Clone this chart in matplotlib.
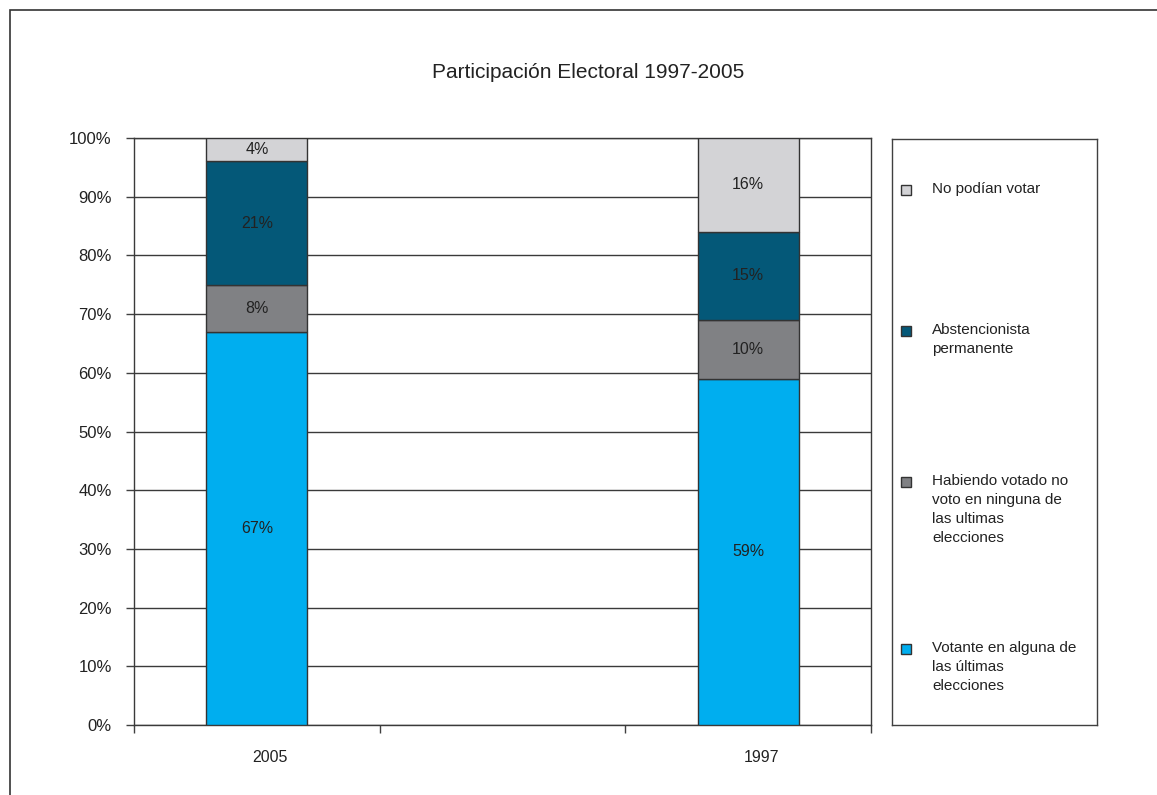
import numpy as np
import matplotlib
matplotlib.use('Agg')
import matplotlib.pyplot as plt
from matplotlib.patches import Rectangle
from matplotlib.transforms import ScaledTranslation

plt.rcParams['font.family'] = ['Liberation Sans', 'DejaVu Sans']

# Datos
years = ['2005', '', '1997']
series = ['Votante en alguna de\nlas últimas\nelecciones',
          'Habiendo votado no\nvoto en ninguna de\nlas ultimas\nelecciones',
          'Abstencionista\npermanente',
          'No podían votar']
votante = [67, 0, 59]
habiendo = [8, 0, 10]
abstencion = [21, 0, 15]
no_podian = [4, 0, 16]
colors = ['#00AEEF', '#808184', '#045878', '#D3D3D6']

W, H = 1157, 795
fig = plt.figure(figsize=(W / 100, H / 100), dpi=100)

# marco exterior
fig.patches.append(Rectangle((10 / W, -0.1), 1.2, 1 - 10 / H + 0.1,
                             transform=fig.transFigure, fill=False,
                             edgecolor='#333333', linewidth=1.2))

ax = fig.add_axes([134 / W, (H - 725) / H, (871 - 134) / W, (725 - 138) / H])
x = np.arange(len(years))
values = [votante, habiendo, abstencion, no_podian]
bottom = np.zeros(len(years))
for vals, col, lab in zip(values, colors, series):
    vals = np.array(vals, dtype=float)
    mask = vals > 0
    ax.bar(x[mask], vals[mask], bottom=bottom[mask], width=0.41,
           color=col, edgecolor='#333333', linewidth=1, zorder=3, label=lab)
    for xi, v, b in zip(x[mask], vals[mask], bottom[mask]):
        ax.text(xi, b + v / 2, f'{int(v)}%', ha='center', va='center',
                fontsize=11.5, color='#222222', zorder=4)
    bottom = bottom + vals

ax.set_xlim(-0.5, 2.5)
ax.set_ylim(0, 100)
ax.set_yticks(np.arange(0, 101, 10))
ax.set_yticklabels([f'{v}%' for v in range(0, 101, 10)], fontsize=12, color='#222222')
ax.yaxis.grid(True, color='#3a3a3a', linewidth=1, zorder=0)
ax.set_axisbelow(True)

ax.set_xticks([-0.5, 0.5, 1.5, 2.5])
ax.set_xticklabels([])
ax.set_xticks([0, 2], minor=True)
ax.set_xticklabels([years[0], years[2]], minor=True, fontsize=11.5, color='#222222')
ax.tick_params(axis='x', which='minor', length=0, pad=18)
ax.tick_params(axis='both', which='major', length=6, width=1, color='#404040')
ax.tick_params(axis='y', pad=10)
for lbl in ax.get_xticklabels(minor=True):
    lbl.set_transform(lbl.get_transform() + ScaledTranslation(13 / 100, 0, fig.dpi_scale_trans))
for s in ax.spines.values():
    s.set_color('#3a3a3a')
    s.set_linewidth(1)

fig.text(588 / W, 1 - 73 / H, 'Participación Electoral 1997-2005',
         ha='center', va='center', fontsize=15, color='#222222')

# leyenda
lax = fig.add_axes([892 / W, (H - 725) / H, (1097 - 892) / W, (725 - 139) / H])
lax.set_xlim(892, 1097)
lax.set_ylim(725, 139)
lax.set_xticks([])
lax.set_yticks([])
for s in lax.spines.values():
    s.set_color('#404040')
    s.set_linewidth(1)
leg_y = [190, 331, 482, 649]
for yy, col, lab in zip(leg_y, colors[::-1], series[::-1]):
    lax.add_patch(Rectangle((901, yy - 5), 10, 10, facecolor=col,
                            edgecolor='#333333', linewidth=1))
    lax.text(932, yy - 8, lab, ha='left', va='top', fontsize=11,
             color='#222222', linespacing=1.45)

fig.savefig('out.png', dpi=100)
